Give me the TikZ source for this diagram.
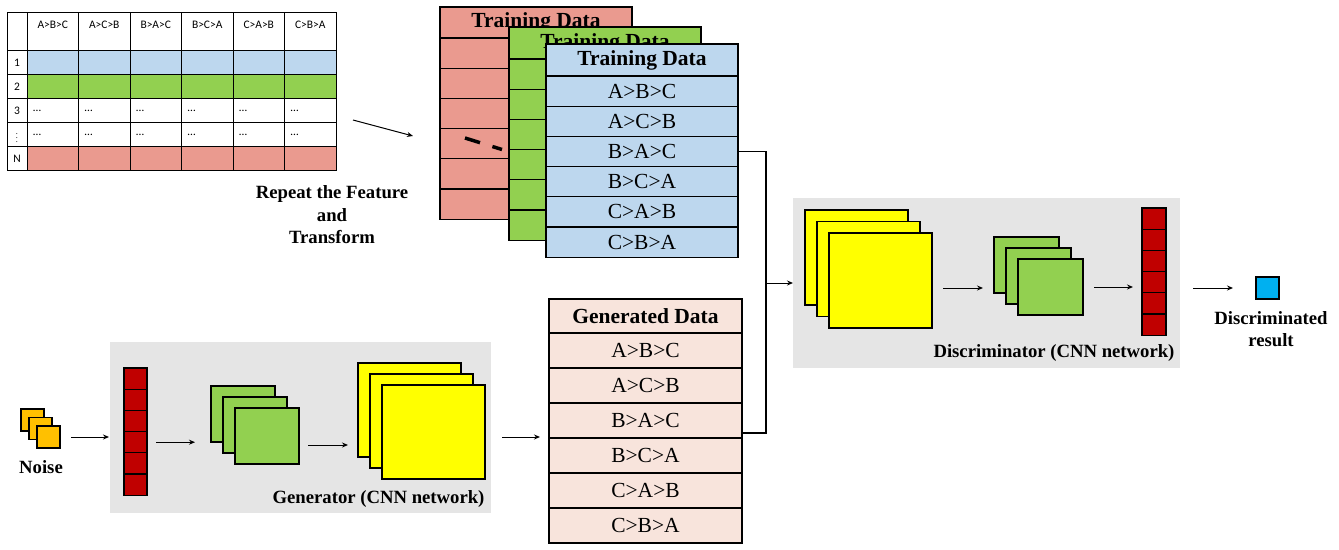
\documentclass[tikz,border=0pt]{standalone}
\usepackage{fontspec}
\setmainfont{Liberation Serif}
\newfontfamily\tblfont{Carlito}
\usetikzlibrary{arrows.meta, positioning}
\definecolor{mLightBlue}{HTML}{BDD7EE}
\definecolor{mGreen}{HTML}{92D050}
\definecolor{mSalmon}{HTML}{EA9A8F}
\definecolor{mDarkRed}{HTML}{C00000}
\definecolor{mYellow}{HTML}{FFFF00}
\definecolor{mOrange}{HTML}{FFC000}
\definecolor{mCyan}{HTML}{00B0F0}
\definecolor{mPink}{HTML}{F8E4DC}
\definecolor{mGray}{HTML}{E5E5E5}

\tikzset{
  blk/.style={draw, line width=1.1pt, inner sep=0pt, outer sep=0pt, anchor=north west},
  cardrow/.style={blk, minimum width=192pt, minimum height=30.2pt, font=\fontsize{21.5}{24}\selectfont},
  cardhead/.style={cardrow, minimum height=32pt, font=\fontsize{21.5}{24}\selectfont\bfseries},
  lbl/.style={font=\fontsize{18.7}{22.5}\selectfont\bfseries, align=center},
  tcell/.style={font=\tblfont\fontsize{11.5}{13}\selectfont, inner sep=0pt},
  arr/.style={-{Stealth[length=6pt, width=5pt]}, line width=1pt},
  panel/.style={fill=mGray, inner sep=0pt, outer sep=0pt, anchor=north west},
}

\begin{document}
\begin{tikzpicture}[x=1pt, y=-1pt]
  \useasboundingbox (0,0) rectangle (1339,549);

  % feature table
  \fill[mLightBlue] (27,50.7) rectangle (336,74.7);
  \fill[mGreen] (27,74.7) rectangle (336,98.7);
  \fill[mSalmon] (27,146.7) rectangle (336,170);
  \draw[line width=0.8pt] (7,12.7) rectangle (336,170);
  \foreach \y in {50.7,74.7,98.7,122.7,146.7}
    \draw[line width=0.8pt] (7,\y) -- (336,\y);
  \foreach \x in {27,78.5,130,181.5,233,284.5}
    \draw[line width=0.8pt] (\x,12.7) -- (\x,170);
  \foreach \p [count=\i from 0] in {A>B>C,A>C>B,B>A>C,B>C>A,C>A>B,C>B>A}
    \node[tcell] (th\i) at ({52.75+\i*51.5},25) {\p};
  \foreach \r [count=\i from 0] in {1,2,3,{\fontsize{8}{8}\selectfont$\vdots$},N}
    \node[tcell] (tr\i) at (17,{62.7+\i*24}) {\r};
  \foreach \c in {0,...,5}
    \foreach \r in {2,3}
      \node[tcell, anchor=west] (td\c\r) at ({33+\c*51.5},{62.7+\r*24}) {…};

  \coordinate (fs) at (353,120);
  \coordinate (fe) at (413,136);
  \draw[arr] (fs) -- (fe);
  \node[lbl] (repeat) at (332,215) {Repeat the Feature\\and\\Transform};

  % training data cards, back to front
  \node[cardhead, minimum height=31pt, fill=mSalmon] (rch) at (440,7) {Training Data};
  \foreach \k in {1,...,6}
    \node[cardrow, fill=mSalmon] (rc\k) at (440,{38+(\k-1)*30.2}) {};
  \draw[line width=3.5pt, dash pattern=on 15.7pt off 13pt] (465,138) -- (502,149.5);
  \node[cardhead, fill=mGreen] (gch) at (509,27) {Training Data};
  \foreach \k in {1,...,6}
    \node[cardrow, fill=mGreen] (gc\k) at (509,{59+(\k-1)*30.2}) {};
  \node[cardhead, fill=mLightBlue] (bch) at (546,44) {Training Data};
  \foreach \t [count=\k] in {A>B>C,A>C>B,B>A>C,B>C>A,C>A>B,C>B>A}
    \node[cardrow, fill=mLightBlue] (bc\k) at (546,{76+(\k-1)*30.2}) {\t};

  % generated data
  \node[cardhead, fill=mPink, minimum width=193pt, minimum height=34pt] (gdh) at (549,299) {Generated Data};
  \foreach \t [count=\k] in {A>B>C,A>C>B,B>A>C,B>C>A,C>A>B,C>B>A}
    \node[cardrow, fill=mPink, minimum width=193pt, minimum height=35pt] (gd\k) at (549,{333+(\k-1)*35}) {\t};

  % generator
  \node[panel, minimum width=381pt, minimum height=171pt] (gen) at (110,342) {};
  \node[lbl, anchor=east] (genname) at (488,499) {Generator (CNN network)};
  \foreach \k in {0,1,2}
    \node[blk, fill=mOrange, minimum width=23pt, minimum height=22pt] (nz\k) at ({21+\k*8},{409+\k*8.5}) {};
  \node[lbl] (noise) at (41,467) {Noise};
  \foreach \k in {0,...,5}
    \node[blk, fill=mDarkRed, minimum width=23pt, minimum height=21.2pt] (gv\k) at (124,{368+\k*21.2}) {};
  \foreach \k in {0,1,2}
    \node[blk, fill=mGreen, minimum width=64pt, minimum height=56pt] (gg\k) at ({211+\k*12},{386+\k*11}) {};
  \foreach \k in {0,1,2}
    \node[blk, fill=mYellow, minimum width=103pt, minimum height=94pt] (gy\k) at ({358+\k*12},{363+\k*11}) {};

  \draw[arr, shorten <=11pt, shorten >=15pt] (nz2.east) -- (nz2.east -| gv0.west);
  \draw[arr, shorten <=9pt, shorten >=16pt] (gv3.east) -- (gv3.east -| gg0.west);
  \draw[arr, shorten <=9pt, shorten >=10pt] ([yshift=-9pt]gg2.east) -- ([yshift=-9pt]gg2.east -| gy0.west);
  \draw[arr, shorten <=17pt, shorten >=9pt] ([yshift=-5pt]gy2.east) -- ([yshift=-5pt]gy2.east -| gdh.west);

  % discriminator
  \node[panel, minimum width=387pt, minimum height=170pt] (dis) at (793,198) {};
  \node[lbl, anchor=east] (disname) at (1178,353) {Discriminator (CNN network)};
  \foreach \k in {0,1,2}
    \node[blk, fill=mYellow, minimum width=103pt, minimum height=95pt] (dy\k) at ({805+\k*12},{210+\k*11.5}) {};
  \foreach \k in {0,1,2}
    \node[blk, fill=mGreen, minimum width=65pt, minimum height=56pt] (dg\k) at ({994+\k*12},{237+\k*11}) {};
  \foreach \k in {0,...,5}
    \node[blk, fill=mDarkRed, minimum width=24pt, minimum height=21.2pt] (dv\k) at (1142,{208+\k*21.2}) {};
  \node[blk, fill=mCyan, minimum width=23pt, minimum height=22pt] (res) at (1256,277) {};
  \node[lbl, font=\fontsize{18.7}{22}\selectfont\bfseries] (resname) at (1271,329) {Discriminated\\result};

  \draw[arr, shorten <=11pt, shorten >=11pt] ([yshift=-7.5pt]dy2.east) -- ([yshift=-7.5pt]dy2.east -| dg0.west);
  \draw[arr, shorten <=11pt, shorten >=9pt] (dg2.east) -- (dg2.east -| dv0.west);
  \draw[arr, shorten <=27pt, shorten >=23pt] (res.west -| dv0.east) -- (res.west);

  % both data streams into the discriminator
  \coordinate (jn) at (766,283);
  \draw[line width=1.3pt] (bc3.east) -| (jn) |- ([yshift=-12.5pt]gd3.east);
  \draw[arr] (jn) -- (jn -| dis.west);
\end{tikzpicture}
\end{document}
